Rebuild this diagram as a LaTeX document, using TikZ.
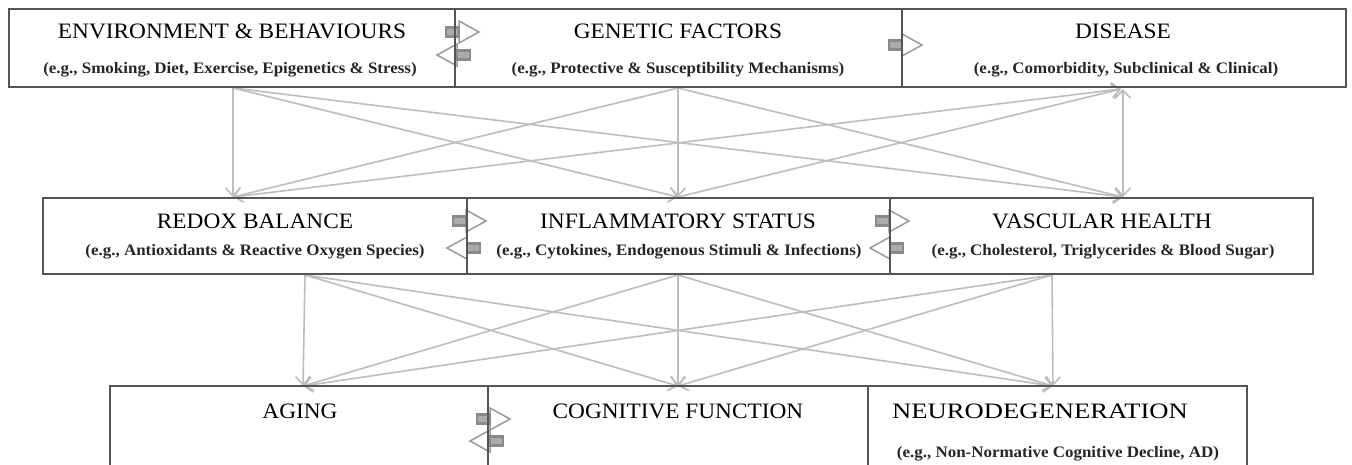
\documentclass[tikz,border=0pt]{standalone}
\usepackage{fontspec}
\setmainfont{Liberation Serif}
\newfontfamily\ttlfont[FakeStretch=1.06]{Liberation Serif}
\newfontfamily\widefont[FakeStretch=1.21]{Liberation Serif}
\usetikzlibrary{arrows.meta}
\definecolor{boxline}{HTML}{555555}
\definecolor{conn}{HTML}{BDBDBD}
\definecolor{blkline}{HTML}{9A9A9A}
\definecolor{blkfill}{HTML}{ABABAB}
\definecolor{blktail}{HTML}{8A8A8A}
\tikzset{
  box/.style={draw=boxline, line width=2.6pt, inner sep=0pt},
  ttl/.style={font=\ttlfont\fontsize{22}{22}\selectfont, anchor=base, inner sep=0pt, text=black},
  wttl/.style={font=\widefont\fontsize{22}{22}\selectfont, anchor=base, inner sep=0pt, text=black},
  sub/.style={font=\ttlfont\fontsize{16}{16}\selectfont\bfseries, anchor=base, inner sep=0pt, text=black!85},
  conn/.style={draw=conn, line width=1.6pt, -{Straight Barb[length=8pt,width=15pt,line width=1.6pt]}},
  connb/.style={draw=conn, line width=1.6pt, {Straight Barb[length=8pt,width=15pt,line width=1.6pt]}-{Straight Barb[length=8pt,width=15pt,line width=1.6pt]}},
  rblk/.pic={
    \draw[blkline, line width=1.5pt, line join=miter] (14,-5) -- (14,-11) -- (34,0) -- (14,11) -- (14,5);
    \draw[blktail, fill=blkfill, line width=2.4pt] (1,-4.5) rectangle (14,4.5);
  },
  lblk/.pic={
    \draw[blkline, line width=1.5pt, line join=miter] (20,-5) -- (20,-11) -- (0,0) -- (20,11) -- (20,5);
    \draw[blktail, fill=blkfill, line width=2.4pt] (20,-4.5) rectangle (33,4.5);
  }
}
\begin{document}
\begin{tikzpicture}[x=1pt,y=-1pt]
\useasboundingbox (0,0) rectangle (1352,464);
\fill[white] (0,0) rectangle (1352,464);

% connector end points
\coordinate (eB) at (233,88);
\coordinate (gB) at (678,88);
\coordinate (dB) at (1121,89);
\coordinate (dB2) at (1123,89);
\coordinate (rT) at (233,197);
\coordinate (iT) at (678,197);
\coordinate (vT) at (1123,197);
\coordinate (rB) at (305,275);
\coordinate (iB) at (678,275);
\coordinate (vB) at (1052,275);
\coordinate (aT) at (303,386);
\coordinate (cT) at (678,386);
\coordinate (nT) at (1053,386);

% upper connectors
\draw[conn] (eB) -- (rT);
\draw[conn] (eB) -- (iT);
\draw[conn] (eB) -- (vT);
\draw[conn] (gB) -- (rT);
\draw[conn] (gB) -- (iT);
\draw[conn] (gB) -- (vT);
\draw[conn] (rT) -- (dB);
\draw[conn] (iT) -- (dB);
\draw[connb] (vT) -- (dB2);

% lower connectors
\foreach \s in {rB,iB,vB}{
  \foreach \t in {aT,cT,nT}{
    \draw[conn] (\s) -- (\t);
  }
}

% block arrows
\pic at (445,32) {rblk};
\pic at (437,55) {lblk};
\pic at (888,45) {rblk};
\pic at (452,221) {rblk};
\pic at (447,248) {lblk};
\pic at (875,221) {rblk};
\pic at (870,248) {lblk};
\pic at (476,419) {rblk};
\pic at (470,441) {lblk};

% boxes
\node[box, minimum width=446pt, minimum height=78pt] (env) at (232,48) {};
\node[box, minimum width=447pt, minimum height=78pt] (gen) at (678.5,48) {};
\node[box, minimum width=444pt, minimum height=78pt] (dis) at (1124,48) {};
\node[box, minimum width=424pt, minimum height=76pt] (red) at (255,236) {};
\node[box, minimum width=423pt, minimum height=76pt] (inf) at (678.5,236) {};
\node[box, minimum width=423pt, minimum height=76pt] (vas) at (1101.5,236) {};
\node[box, minimum width=378pt, minimum height=80pt] (agi) at (299,426) {};
\node[box, minimum width=380pt, minimum height=80pt] (cog) at (678,426) {};
\node[box, minimum width=379pt, minimum height=80pt] (neu) at (1057.5,426) {};

% texts
\node[ttl] (envT) at (232,38) {ENVIRONMENT \& BEHAVIOURS};
\node[sub] (envS) at (230,73) {(e.g., Smoking, Diet, Exercise, Epigenetics \& Stress)};
\node[ttl] (genT) at (678,38) {GENETIC FACTORS};
\node[sub] (genS) at (678,73) {(e.g., Protective \& Susceptibility Mechanisms)};
\node[ttl] (disT) at (1123,38) {DISEASE};
\node[sub] (disS) at (1126,73) {(e.g., Comorbidity, Subclinical \& Clinical)};
\node[ttl] (redT) at (255,228) {REDOX BALANCE};
\node[sub] (redS) at (255,255) {(e.g., Antioxidants \& Reactive Oxygen Species)};
\node[ttl] (infT) at (678,228) {INFLAMMATORY STATUS};
\node[sub] (infS) at (679,255) {(e.g., Cytokines, Endogenous Stimuli \& Infections)};
\node[ttl] (vasT) at (1102,228) {VASCULAR HEALTH};
\node[sub] (vasS) at (1103,255) {(e.g., Cholesterol, Triglycerides \& Blood Sugar)};
\node[ttl] (agiT) at (300,418) {AGING};
\node[ttl] (cogT) at (678,418) {COGNITIVE FUNCTION};
\node[wttl] (neuT) at (1040,418) {NEURODEGENERATION};
\node[sub] (neuS) at (1058,457) {(e.g., Non-Normative Cognitive Decline, AD)};
\end{tikzpicture}
\end{document}
